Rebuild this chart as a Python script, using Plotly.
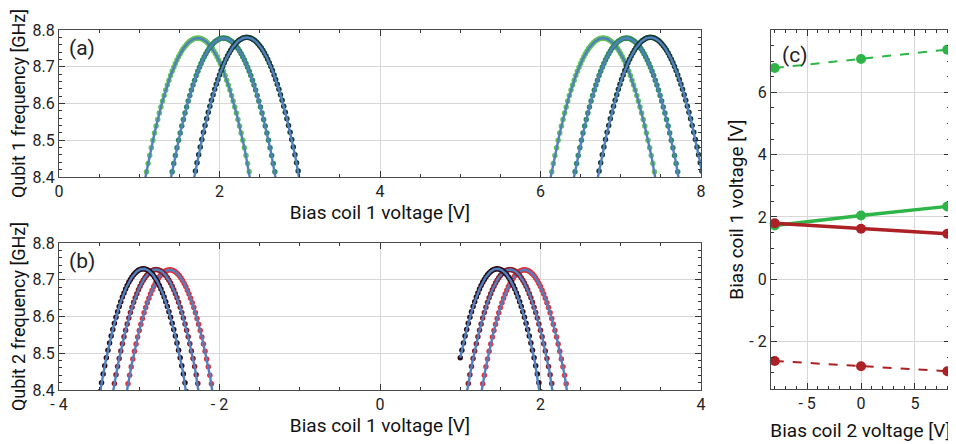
import numpy as np
import plotly.graph_objects as go

# ---------------- data ----------------
coil2_voltage = [-8, 0, 8]                       # bias coil 2 voltage [V]
q1_sweet_main = [1.73, 2.05, 2.34]               # qubit 1 sweet spots (coil 1) [V]
q1_sweet_next = [6.78, 7.07, 7.37]
q2_sweet_main = [1.80, 1.62, 1.46]               # qubit 2 sweet spots (coil 1) [V]
q2_sweet_prev = [-2.62, -2.79, -2.95]
q1_fmax = [8.778, 8.778, 8.780]                  # GHz
q2_fmax = [8.727, 8.728, 8.730]                  # GHz
q1_period = 5.04                                 # flux period on coil 1 [V]
q2_period = 4.42
charging_energy = 0.3                            # GHz (fit model parameter)
q2_main_sweep_start = [None, None, 1.0]          # measured sweep start (V), None = full
sample_step = 0.02                               # V between measured points

xticks_a = [0, 2, 4, 6, 8]
xticks_b = [-4, -2, 0, 2, 4]
xtext_b = ["- 4", "- 2", "0", "2", "4"]
yticks_f = [8.4, 8.5, 8.6, 8.7, 8.8]
xticks_c = [-5, 0, 5]
xtext_c = ["- 5", "0", "5"]
yticks_c = [-2, 0, 2, 4, 6]
ytext_c = ["- 2", "0", "2", "4", "6"]

# ---------------- styles ----------------
q1_colors = ["#62c255", "#2a8a55", "#163a2e"]
q2_colors = ["#e3313b", "#8e1c25", "#2a0b16"]
fit_color = "#5180c0"
green_c = "#2db548"
red_c = "#ad2126"
FONT = "Roboto"


def transmon(v, v0, fmax, period):
    a = fmax + charging_energy
    return a * np.sqrt(np.abs(np.cos(np.pi * (v - v0) / period))) - charging_energy


def add_arc(fig, v0, fmax, period, color, xa, ya, start=None):
    lo = v0 - 0.78 if start is None else start
    hi = v0 + 0.78
    vd = np.arange(lo, hi, sample_step)
    fd = transmon(vd, v0, fmax, period)
    vf = np.linspace(lo, hi, 300)
    ff = transmon(vf, v0, fmax, period)
    fig.add_trace(go.Scatter(x=vd, y=fd, mode="markers", xaxis=xa, yaxis=ya,
                             marker=dict(size=5.5, color=color), showlegend=False,
                             hoverinfo="skip"))
    fig.add_trace(go.Scatter(x=vf, y=ff, mode="lines", xaxis=xa, yaxis=ya,
                             line=dict(color=fit_color, width=2.4), showlegend=False,
                             hoverinfo="skip"))


fig = go.Figure()

# panel (a)
for group in (q1_sweet_main, q1_sweet_next):
    for v0, fm, col in zip(group, q1_fmax, q1_colors):
        add_arc(fig, v0, fm, q1_period, col, "x", "y")

# panel (b)
for v0, fm, col in zip(q2_sweet_prev, q2_fmax, q2_colors):
    add_arc(fig, v0, fm, q2_period, col, "x2", "y2")
for v0, fm, col, st in zip(q2_sweet_main, q2_fmax, q2_colors, q2_main_sweep_start):
    add_arc(fig, v0, fm, q2_period, col, "x2", "y2", start=st)

# panel (c)
for yv, col, dash, w in [(q1_sweet_next, green_c, "dash", 2),
                         (q1_sweet_main, green_c, "solid", 3.5),
                         (q2_sweet_main, red_c, "solid", 3.5),
                         (q2_sweet_prev, red_c, "dash", 2)]:
    fig.add_trace(go.Scatter(x=coil2_voltage, y=yv, mode="lines+markers",
                             xaxis="x3", yaxis="y3", showlegend=False,
                             line=dict(color=col, width=w, dash=dash),
                             marker=dict(size=10, color=col), cliponaxis=False))

# page body has an 8px margin: figure is sized so that it fills the 956x444 window
OFF = 8
W, H = 956 - OFF, 444 - OFF


def xd(a, b):
    return [(a - OFF) / W, (b - OFF) / W]


def yd(top, bottom):
    return [1 - (bottom - OFF) / H, 1 - (top - OFF) / H]


axis_common = dict(showline=True, linecolor="#4a4a4a", linewidth=1.2, mirror="ticks",
                   ticks="inside", ticklen=6, tickcolor="#333", tickwidth=1,
                   showgrid=True, gridcolor="#d8d8d8", gridwidth=1, zeroline=False,
                   automargin=False,
                   tickfont=dict(family=FONT, size=16, color="#222"),
                   title_font=dict(family=FONT, size=19, color="#111"))
minor_common = dict(ticks="inside", ticklen=3, tickcolor="#333", showgrid=False)
ytitle_font = dict(family=FONT, size=18, color="#111")

fig.update_layout(
    width=W, height=H, margin=dict(l=0, r=0, t=0, b=0),
    paper_bgcolor="white", plot_bgcolor="white", showlegend=False,
    xaxis=dict(domain=xd(59, 701), anchor="y", range=[0, 8], tickvals=xticks_a,
               minor=dict(dtick=0.5, **minor_common),
               title=dict(text="Bias coil 1 voltage [V]", standoff=4), **axis_common),
    yaxis=dict(domain=yd(30, 177), anchor="x", range=[8.4, 8.8], tickvals=yticks_f,
               ticktext=[f"{t:.1f}" for t in yticks_f],
               minor=dict(dtick=0.02, **minor_common),
               title=dict(text="Qubit 1 frequency [GHz]", standoff=6, font=ytitle_font),
               **{k: v for k, v in axis_common.items() if k != "title_font"}),
    xaxis2=dict(domain=xd(59, 701), anchor="y2", range=[-4, 4], tickvals=xticks_b,
                ticktext=xtext_b, minor=dict(dtick=0.5, **minor_common),
                title=dict(text="Bias coil 1 voltage [V]", standoff=2), **axis_common),
    yaxis2=dict(domain=yd(243, 390), anchor="x2", range=[8.4, 8.8], tickvals=yticks_f,
                ticktext=[f"{t:.1f}" for t in yticks_f],
                minor=dict(dtick=0.02, **minor_common),
                title=dict(text="Qubit 2 frequency [GHz]", standoff=6, font=ytitle_font),
                **{k: v for k, v in axis_common.items() if k != "title_font"}),
    xaxis3=dict(domain=xd(771, 950), anchor="y3", range=[-8.35, 8.25], tickvals=xticks_c,
                ticktext=xtext_c, minor=dict(dtick=1, **minor_common),
                title=dict(text="Bias coil 2 voltage [V]", standoff=11), **axis_common),
    yaxis3=dict(domain=yd(30, 389), anchor="x3", range=[-3.52, 8.0], tickvals=yticks_c,
                ticktext=ytext_c, minor=dict(dtick=0.5, **minor_common),
                title=dict(text="Bias coil 1 voltage [V]", standoff=0), **axis_common),
)

for txt, xr, yr in [("(a)", "x domain", "y domain"), ("(b)", "x2 domain", "y2 domain"),
                    ("(c)", "x3 domain", "y3 domain")]:
    fig.add_annotation(text=txt, xref=xr, yref=yr, x=0.012 if txt != "(c)" else 0.05,
                       y=0.97, xanchor="left", yanchor="top", showarrow=False,
                       font=dict(family=FONT, size=21, color="#222"))

fig.write_html("out.html")
